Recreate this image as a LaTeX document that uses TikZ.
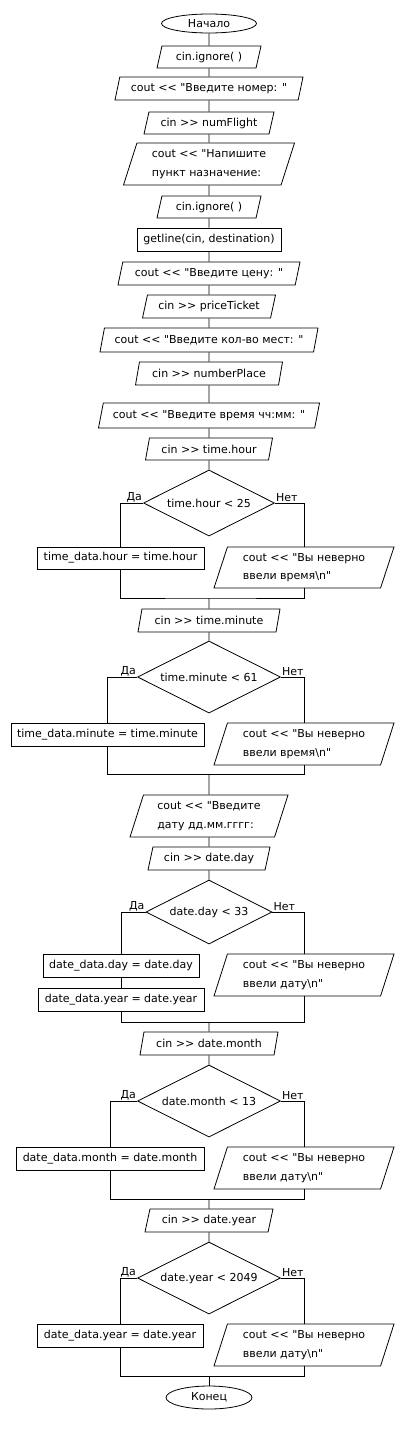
\documentclass[tikz,border=0pt]{standalone}
\usepackage{fontspec}
\setmainfont{DejaVu Sans}[Ligatures=TeXOff]
\usetikzlibrary{shapes.geometric}

\tikzset{
  base/.style={draw, line width=0.8pt, inner sep=0pt, font=\fontsize{11}{18.5}\selectfont},
  term/.style={base, ellipse},
  proc/.style={base, rectangle, minimum height=23pt},
  io/.style={base, trapezium, trapezium left angle=65, trapezium right angle=115,
    trapezium stretches body, minimum height=23pt, align=left},
  cond/.style={base, diamond, aspect=2, minimum height=72pt},
  lbl/.style={inner sep=1pt, font=\fontsize{11}{13}\selectfont},
  line/.style={line width=0.8pt}
}

\begin{document}
\begin{tikzpicture}[x=1pt, y=-1pt]
    \useasboundingbox (0,0) rectangle (404,1456);

    % Input block
    \node[term, minimum width=95pt, minimum height=19pt] (start) at (209,23.5) {Начало};
    \node[io, minimum width=104pt, minimum height=22pt] (ign1) at (209,57) {cin.ignore( )};
    \node[io, minimum width=188pt] (outNum) at (209,88.5) {cout << "Введите номер: "};
    \node[io, minimum width=130pt, minimum height=22pt] (inFlight) at (209,123) {cin >> numFlight};
    \node[io, minimum width=171pt, minimum height=42pt] (outDest) at (209,164) {cout << "Напишите\\пункт назначение:};
    \node[io, minimum width=104pt, minimum height=22pt] (ign2) at (209,207) {cin.ignore( )};
    \node[proc, minimum width=144pt] (getDest) at (209,239.5) {getline(cin, destination)};
    \node[io, minimum width=182pt] (outPrice) at (209,273.5) {cout << "Введите цену: "};
    \node[io, minimum width=133pt] (inPrice) at (209,306.5) {cin >> priceTicket};
    \node[io, minimum width=218pt, minimum height=24pt] (outPlace) at (209,340) {cout << "Введите кол-во мест: "};
    \node[io, minimum width=147pt] (inPlace) at (209,373.5) {cin >> numberPlace};
    \node[io, minimum width=221pt, minimum height=25pt] (outTime) at (209,415.5) {cout << "Введите время чч:мм: "};
    \node[io, minimum width=127pt, minimum height=22pt] (inHour) at (209,449) {cin >> time.hour};

    \draw[line] (start) -- (ign1) -- (outNum) -- (inFlight) -- (outDest) -- (ign2) -- (getDest)
      -- (outPrice) -- (inPrice) -- (outPlace) -- (inPlace) -- (outTime) -- (inHour);

    % Hour check
    \node[cond, minimum width=131pt, minimum height=66pt] (chkHour) at (209,503) {time.hour < 25};
    \node[proc, minimum width=167pt, minimum height=22pt] (yesHour) at (120.5,558) {time\_data.hour = time.hour};
    \node[io, minimum width=180pt, minimum height=41pt] (noHour) at (304,567.5) {cout << "Вы неверно\\ввели время\textbackslash n"};
    \coordinate (mHour) at (209,598);
    \node[lbl, anchor=south east] (yHour) at (chkHour.west) {Да};
    \node[lbl, anchor=south west] (nHour) at (chkHour.east) {Нет};
    \draw[line] (inHour) -- (chkHour);
    \draw[line] (chkHour.west) -| (yesHour.north);
    \draw[line] (chkHour.east) -| (noHour.north);
    \draw[line] (yesHour.south) |- (mHour) -| (noHour.south);

    % Minute check
    \node[io, minimum width=142pt] (inMin) at (209,620.5) {cin >> time.minute};
    \node[cond, minimum width=143pt] (chkMin) at (209,677) {time.minute < 61};
    \node[proc, minimum width=193pt] (yesMin) at (107.5,734.5) {time\_data.minute = time.minute};
    \node[io, minimum width=180pt, minimum height=42pt] (noMin) at (304,744) {cout << "Вы неверно\\ввели время\textbackslash n"};
    \coordinate (mMin) at (209,774);
    \node[lbl, anchor=south east] (yMin) at (chkMin.west) {Да};
    \node[lbl, anchor=south west] (nMin) at (chkMin.east) {Нет};
    \draw[line] (mHour) -- (inMin) -- (chkMin);
    \draw[line] (chkMin.west) -| (yesMin.north);
    \draw[line] (chkMin.east) -| (noMin.north);
    \draw[line] (yesMin.south) |- (mMin) -| (noMin.south);

    % Day check
    \node[io, minimum width=158pt, minimum height=42pt] (outDate) at (209,816) {cout << "Введите\\дату дд.мм.гггг:};
    \node[io, minimum width=122pt] (inDay) at (209,858.5) {cin >> date.day};
    \node[cond, minimum width=126pt, minimum height=64pt] (chkDay) at (209,912) {date.day < 33};
    \node[proc, minimum width=156pt] (yesDay) at (121,965.5) {date\_data.day = date.day};
    \node[proc, minimum width=166pt] (yesDayB) at (121,999.5) {date\_data.year = date.year};
    \node[io, minimum width=180pt, minimum height=42pt] (noDay) at (304,975) {cout << "Вы неверно\\ввели дату\textbackslash n"};
    \coordinate (mDay) at (209,1022);
    \node[lbl, anchor=south east] (yDay) at (chkDay.west) {Да};
    \node[lbl, anchor=south west] (nDay) at (chkDay.east) {Нет};
    \draw[line] (mMin) -- (outDate) -- (inDay) -- (chkDay);
    \draw[line] (chkDay.west) -| (yesDay.north);
    \draw[line] (chkDay.east) -| (noDay.north);
    \draw[line] (yesDay) -- (yesDayB);
    \draw[line] (yesDayB.south) |- (mDay) -| (noDay.south);

    % Month check
    \node[io, minimum width=138pt] (inMonth) at (209,1043.5) {cin >> date.month};
    \node[cond, minimum width=143pt] (chkMonth) at (209,1101) {date.month < 13};
    \node[proc, minimum width=188pt] (yesMonth) at (110,1158.5) {date\_data.month = date.month};
    \node[io, minimum width=180pt, minimum height=42pt] (noMonth) at (304,1168) {cout << "Вы неверно\\ввели дату\textbackslash n"};
    \coordinate (mMonth) at (209,1199);
    \node[lbl, anchor=south east] (yMonth) at (chkMonth.west) {Да};
    \node[lbl, anchor=south west] (nMonth) at (chkMonth.east) {Нет};
    \draw[line] (mDay) -- (inMonth) -- (chkMonth);
    \draw[line] (chkMonth.west) -| (yesMonth.north);
    \draw[line] (chkMonth.east) -| (noMonth.north);
    \draw[line] (yesMonth.south) |- (mMonth) -| (noMonth.south);

    % Year check
    \node[io, minimum width=128pt] (inYear) at (209,1220.5) {cin >> date.year};
    \node[cond, minimum width=143pt] (chkYear) at (209,1278) {date.year < 2049};
    \node[proc, minimum width=166pt] (yesYear) at (120,1335.5) {date\_data.year = date.year};
    \node[io, minimum width=180pt, minimum height=42pt] (noYear) at (304,1345) {cout << "Вы неверно\\ввели дату\textbackslash n"};
    \coordinate (mYear) at (209,1376);
    \node[lbl, anchor=south east] (yYear) at (chkYear.west) {Да};
    \node[lbl, anchor=south west] (nYear) at (chkYear.east) {Нет};
    \draw[line] (mMonth) -- (inYear) -- (chkYear);
    \draw[line] (chkYear.west) -| (yesYear.north);
    \draw[line] (chkYear.east) -| (noYear.north);
    \draw[line] (yesYear.south) |- (mYear) -| (noYear.south);

    \node[term, minimum width=86pt, minimum height=23pt] (finish) at (209,1397.5) {Конец};
    \draw[line] (mYear) -- (finish);
\end{tikzpicture}
\end{document}
